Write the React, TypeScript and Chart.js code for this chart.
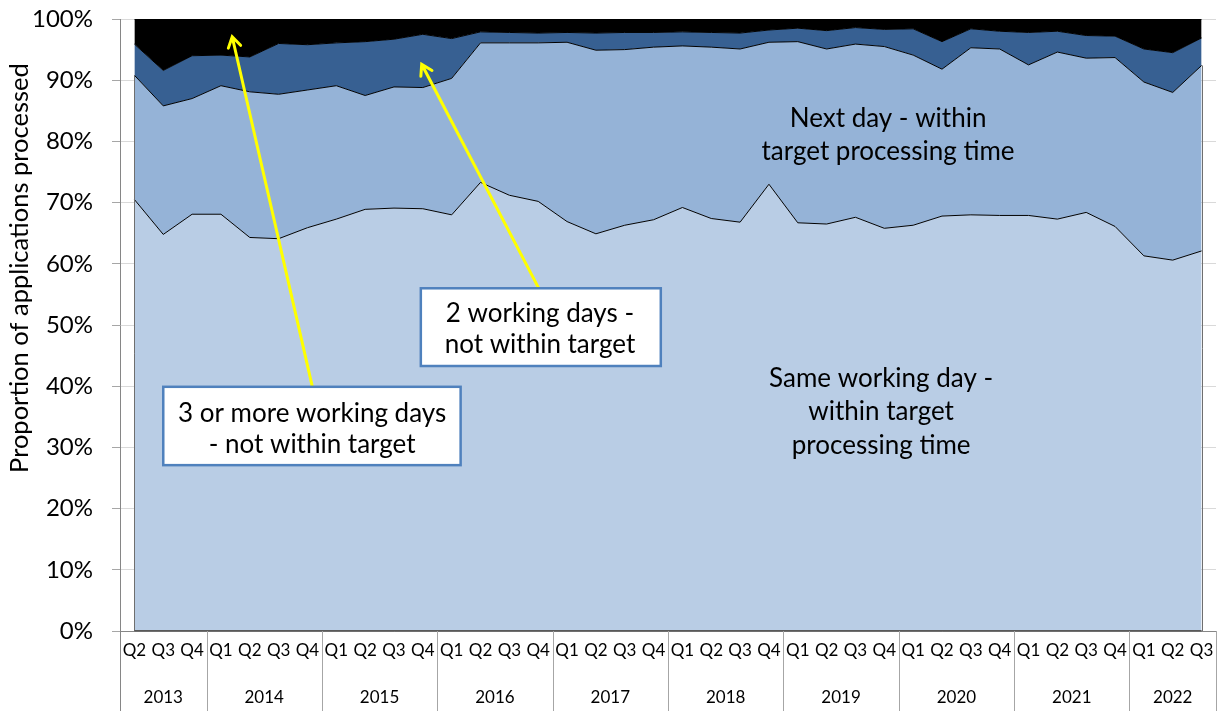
import React, { useEffect, useRef } from "react";
import { Chart, registerables } from "chart.js";

Chart.register(...registerables);

// ---- Data ----
const quarterLabels = [
  "Q2", "Q3", "Q4",
  "Q1", "Q2", "Q3", "Q4",
  "Q1", "Q2", "Q3", "Q4",
  "Q1", "Q2", "Q3", "Q4",
  "Q1", "Q2", "Q3", "Q4",
  "Q1", "Q2", "Q3", "Q4",
  "Q1", "Q2", "Q3", "Q4",
  "Q1", "Q2", "Q3", "Q4",
  "Q1", "Q2", "Q3", "Q4",
  "Q1", "Q2", "Q3",
];
const yearLabels = ["2013", "2014", "2015", "2016", "2017", "2018", "2019", "2020", "2021", "2022"];
const quartersPerYear = [3, 4, 4, 4, 4, 4, 4, 4, 4, 3];

// percentages of applications processed
const sameDay = [
  70.5, 64.8, 68.1, 68.1, 64.3, 64.1, 65.9, 67.3, 68.9, 69.1,
  69.0, 68.0, 73.3, 71.2, 70.2, 66.9, 64.9, 66.3, 67.2, 69.2,
  67.4, 66.8, 73.0, 66.7, 66.5, 67.6, 65.8, 66.3, 67.8, 68.0,
  67.9, 67.9, 67.3, 68.4, 66.1, 61.3, 60.6, 62.1,
];
const nextDay = [
  20.3, 21.0, 18.9, 21.0, 23.8, 23.6, 22.5, 21.8, 18.6, 19.8,
  19.8, 22.3, 22.8, 24.9, 25.9, 29.3, 30.0, 28.7, 28.2, 26.4,
  28.0, 28.3, 23.2, 29.6, 28.6, 28.3, 29.7, 27.8, 24.0, 27.3,
  27.2, 24.6, 27.3, 25.2, 27.6, 28.4, 27.4, 30.3,
];
const twoDays = [
  5.1, 5.8, 7.0, 5.0, 5.7, 8.3, 7.4, 7.0, 8.8, 7.8,
  8.7, 6.5, 1.8, 1.7, 1.6, 1.6, 2.8, 2.8, 2.4, 2.3,
  2.4, 2.6, 2.0, 2.2, 3.0, 2.7, 2.8, 4.3, 4.5, 3.1,
  2.9, 5.3, 3.4, 3.7, 3.5, 5.4, 6.5, 4.5,
];
const threePlusDays = [
  4.1, 8.4, 6.0, 5.9, 6.2, 4.0, 4.2, 3.9, 3.7, 3.3,
  2.5, 3.2, 2.1, 2.2, 2.3, 2.2, 2.3, 2.2, 2.2, 2.1,
  2.2, 2.3, 1.8, 1.5, 1.9, 1.4, 1.7, 1.6, 3.7, 1.6,
  2.0, 2.2, 2.0, 2.7, 2.8, 4.9, 5.5, 3.1,
];

const yTitle = "Proportion of applications processed";
const labelNextDay = ["Next day - within", "target processing time"];
const labelSameDay = ["Same working day -", "within target", "processing time"];
const labelTwoDays = ["2 working days -", "not within target"];
const labelThreePlus = ["3 or more working days", "- not within target"];

// ---- Styles ----
const FONT = "Lato, 'Open Sans', sans-serif";
const AXIS_GRAY = "#868686";
const SEP_GRAY = "#A6A6A6";
const NOTE_SIZE = 26;

const overlayPlugin = {
  id: "overlay",
  afterDraw(chart: any) {
    const ctx: CanvasRenderingContext2D = chart.ctx;
    const xs = chart.scales.x;
    const ys = chart.scales.y;
    const ca = chart.chartArea;
    const step = xs.getPixelForValue(1) - xs.getPixelForValue(0);
    const px = (i: number) => xs.getPixelForValue(0) + i * step;
    const py = (v: number) => ys.getPixelForValue(v);
    const n = quarterLabels.length;
    const H = chart.height;

    ctx.save();
    // area edges
    ctx.strokeStyle = "#6f6f6f";
    ctx.lineWidth = 1;
    ctx.beginPath();
    ctx.moveTo(Math.round(px(0)) + 0.5, py(0));
    ctx.lineTo(Math.round(px(0)) + 0.5, py(sameDay[0] + nextDay[0]));
    ctx.moveTo(Math.round(px(n - 1)) + 0.5, py(0));
    ctx.lineTo(Math.round(px(n - 1)) + 0.5, py(sameDay[n - 1] + nextDay[n - 1]));
    ctx.stroke();
    ctx.strokeStyle = "#595959";
    ctx.lineWidth = 1.5;
    ctx.beginPath();
    ctx.moveTo(px(0), Math.round(py(0)) - 0.25);
    ctx.lineTo(px(n - 1), Math.round(py(0)) - 0.25);
    ctx.stroke();

    // category table below axis
    ctx.strokeStyle = SEP_GRAY;
    ctx.lineWidth = 1;
    ctx.beginPath();
    let start = 0;
    const bounds: number[] = [px(-0.5)];
    quartersPerYear.forEach((q) => {
      start += q;
      bounds.push(px(start - 0.5));
    });
    bounds.forEach((b) => {
      const xx = Math.round(b) + 0.5;
      ctx.moveTo(xx, ca.bottom);
      ctx.lineTo(xx, H);
    });
    ctx.stroke();
    ctx.strokeStyle = AXIS_GRAY;
    ctx.beginPath();
    ctx.moveTo(Math.round(ca.left) + 0.5, ca.bottom);
    ctx.lineTo(Math.round(ca.left) + 0.5, H);
    ctx.stroke();

    ctx.fillStyle = "#000";
    ctx.font = `17px ${FONT}`;
    ctx.textAlign = "center";
    ctx.textBaseline = "middle";
    yearLabels.forEach((yl, k) => {
      ctx.fillText(yl, (bounds[k] + bounds[k + 1]) / 2, ca.bottom + 67);
    });

    // y axis title
    ctx.save();
    ctx.font = `25.5px ${FONT}`;
    ctx.translate(20, py(59.3));
    ctx.rotate(-Math.PI / 2);
    ctx.fillText(yTitle, 0, 0);
    ctx.restore();

    // area labels
    ctx.font = `${NOTE_SIZE}px ${FONT}`;
    labelNextDay.forEach((t, k) => ctx.fillText(t, px(26.13), py(83.8) + k * 33.4));
    labelSameDay.forEach((t, k) => ctx.fillText(t, px(25.89), py(41.3) + k * 33.5));

    // arrows
    const arrow = (i1: number, v1: number, i2: number, v2: number) => {
      const x1 = px(i1), y1 = py(v1), x2 = px(i2), y2 = py(v2);
      const a = Math.atan2(y2 - y1, x2 - x1);
      const L = 12, s = 0.55;
      ctx.strokeStyle = "#FFFF00";
      ctx.lineWidth = 3;
      ctx.lineCap = "round";
      ctx.beginPath();
      ctx.moveTo(x1, y1);
      ctx.lineTo(x2, y2);
      ctx.moveTo(x2 - L * Math.cos(a - s), y2 - L * Math.sin(a - s));
      ctx.lineTo(x2, y2);
      ctx.lineTo(x2 - L * Math.cos(a + s), y2 - L * Math.sin(a + s));
      ctx.stroke();
    };
    arrow(6.17, 39.9, 3.39, 97.1);
    arrow(14.03, 55.9, 9.96, 92.6);

    // boxes
    const box = (l: number, r: number, t: number, b: number, cx: number, v0: number, lines: string[]) => {
      const x0 = px(l), x1 = px(r), y0 = py(t), y1 = py(b);
      ctx.fillStyle = "#FFFFFF";
      ctx.fillRect(x0, y0, x1 - x0, y1 - y0);
      ctx.strokeStyle = "#4F81BD";
      ctx.lineWidth = 2.5;
      ctx.strokeRect(x0, y0, x1 - x0, y1 - y0);
      ctx.fillStyle = "#000";
      ctx.font = `${NOTE_SIZE}px ${FONT}`;
      lines.forEach((t2, k) => ctx.fillText(t2, px(cx), py(v0) + k * 31.7));
    };
    box(9.93, 18.25, 56.0, 43.3, 14.06, 51.9, labelTwoDays);
    box(1.0, 11.31, 39.9, 27.1, 6.16, 35.6, labelThreePlus);

    ctx.restore();
  },
};

export default function App() {
  const ref = useRef<HTMLCanvasElement>(null);
  useEffect(() => {
    if (!ref.current) return;
    Chart.defaults.font.family = FONT;
    const common = { borderColor: "#000000", borderWidth: 1, pointRadius: 0, pointHoverRadius: 0, tension: 0 };
    const chart = new Chart(ref.current, {
      type: "line",
      data: {
        labels: quarterLabels,
        datasets: [
          { ...common, label: "Same working day - within target processing time", data: sameDay, backgroundColor: "#B9CDE5", fill: "origin" },
          { ...common, label: "Next day - within target processing time", data: nextDay, backgroundColor: "#95B3D7", fill: "-1" },
          { ...common, label: "2 working days - not within target", data: twoDays, backgroundColor: "#376092", fill: "-1" },
          { ...common, label: "3 or more working days - not within target", data: threePlusDays, backgroundColor: "#000000", fill: "-1" },
        ],
      },
      options: {
        animation: false,
        responsive: false,
        devicePixelRatio: 1,
        events: [],
        layout: { padding: { top: 19, right: 2, bottom: 0, left: 0 } },
        plugins: { legend: { display: false }, tooltip: { enabled: false }, title: { display: false } },
        scales: {
          x: {
            type: "category",
            offset: true,
            grid: { display: false, drawTicks: false },
            border: { display: true, color: AXIS_GRAY, width: 1 },
            ticks: { autoSkip: false, maxRotation: 0, minRotation: 0, color: "#000", padding: 9, font: { size: 17, family: FONT } },
            afterFit: (s: any) => { s.height = 80; s.paddingLeft = 0; s.paddingRight = 0; },
          },
          y: {
            stacked: true,
            min: 0,
            max: 100,
            ticks: { stepSize: 10, color: "#000", padding: 19, font: { size: 24, family: FONT }, callback: (v: any) => `${v}%` },
            grid: { color: "#D9D9D9", tickColor: "#A6A6A6", tickLength: 8, drawTicks: true },
            border: { display: true, color: AXIS_GRAY, width: 1 },
            afterFit: (s: any) => { s.width = 120; s.paddingTop = 0; s.paddingBottom = 0; },
          },
        },
      },
      plugins: [overlayPlugin],
    } as any);
    return () => chart.destroy();
  }, []);
  return (
    <div style={{ position: "fixed", left: 0, top: 0, width: 1218, height: 711, background: "#fff" }}>
      <canvas ref={ref} width={1218} height={711} style={{ display: "block" }} />
    </div>
  );
}
